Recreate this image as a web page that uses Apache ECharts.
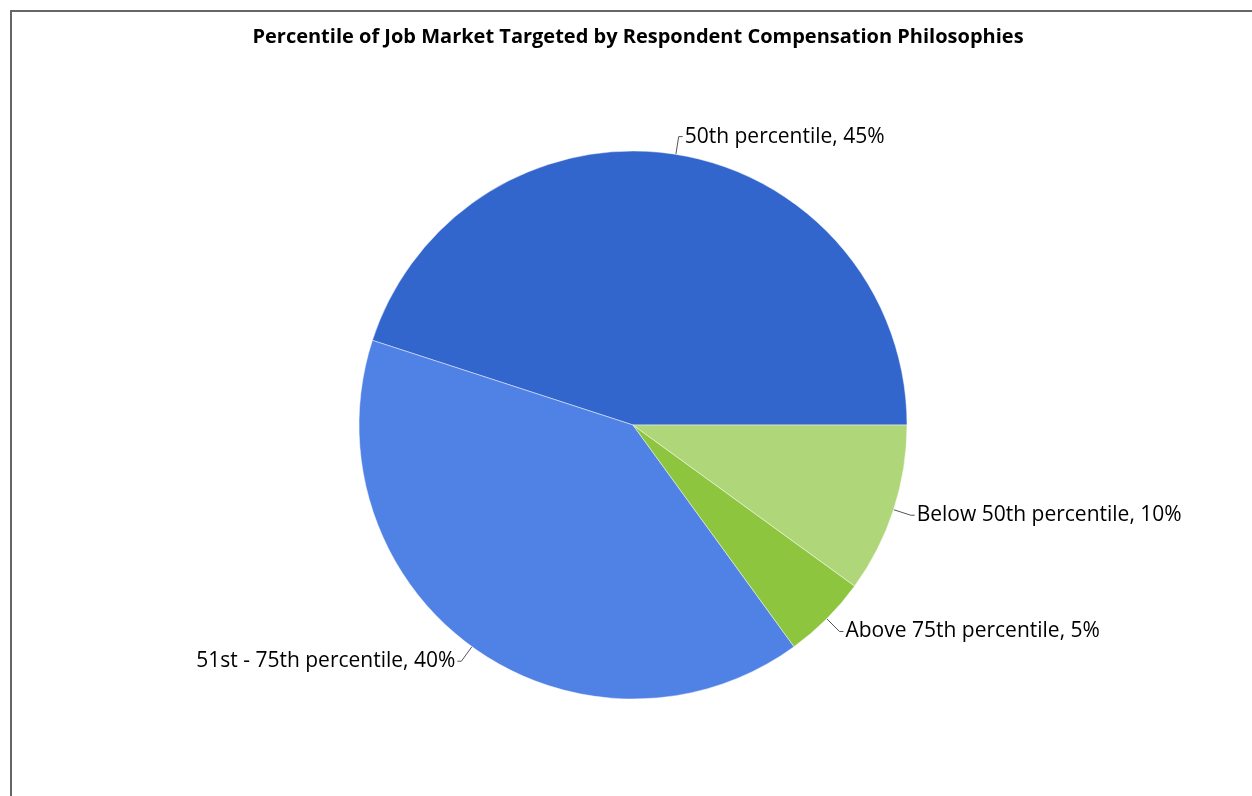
<!DOCTYPE html>
<html>
<head>
<meta charset="utf-8">
<script src="https://cdn.jsdelivr.net/npm/echarts@6/dist/echarts.min.js"></script>
<style>
html,body{margin:0;padding:0;background:#fff;}
#chart{position:absolute;left:0;top:0;width:1252px;height:796px;}
#frame{position:absolute;left:10px;top:10px;right:-5px;bottom:-5px;border-left:2px solid #666;border-top:2px solid #666;pointer-events:none;}
</style>
</head>
<body>
<div id="chart"></div>
<div id="frame"></div>
<script>
const titleText = 'Percentile of Job Market Targeted by Respondent Compensation Philosophies';
const categories = ['50th percentile', '51st - 75th percentile', 'Above 75th percentile', 'Below 50th percentile'];
const values = [45, 40, 5, 10];
const colors = ['#3366CC', '#5082E6', '#8DC53E', '#AFD679'];

const chart = echarts.init(document.getElementById('chart'));
chart.setOption({
  animation: false,
  backgroundColor: '#fff',
  title: {
    text: titleText,
    left: 633,
    textAlign: 'center',
    top: 22,
    textStyle: {fontFamily: 'Open Sans', fontWeight: 'bold', fontSize: 20, color: '#000'}
  },
  series: [{
    type: 'pie',
    center: [633, 425],
    radius: 274,
    startAngle: 0,
    clockwise: false,
    data: categories.map((c, i) => ({name: c, value: values[i], itemStyle: {color: colors[i]}})),
    itemStyle: {borderColor: 'rgba(255,255,255,0.45)', borderWidth: 1},
    label: {
      show: true,
      formatter: p => p.name + ', ' + p.value + '%',
      fontFamily: 'Open Sans',
      fontSize: 21,
      color: '#000',
      distanceToLabelLine: 2
    },
    labelLine: {
      show: true,
      length: 18,
      length2: 4,
      lineStyle: {color: '#555', width: 1}
    },
    emphasis: {disabled: true}
  }]
});
</script>
</body>
</html>
